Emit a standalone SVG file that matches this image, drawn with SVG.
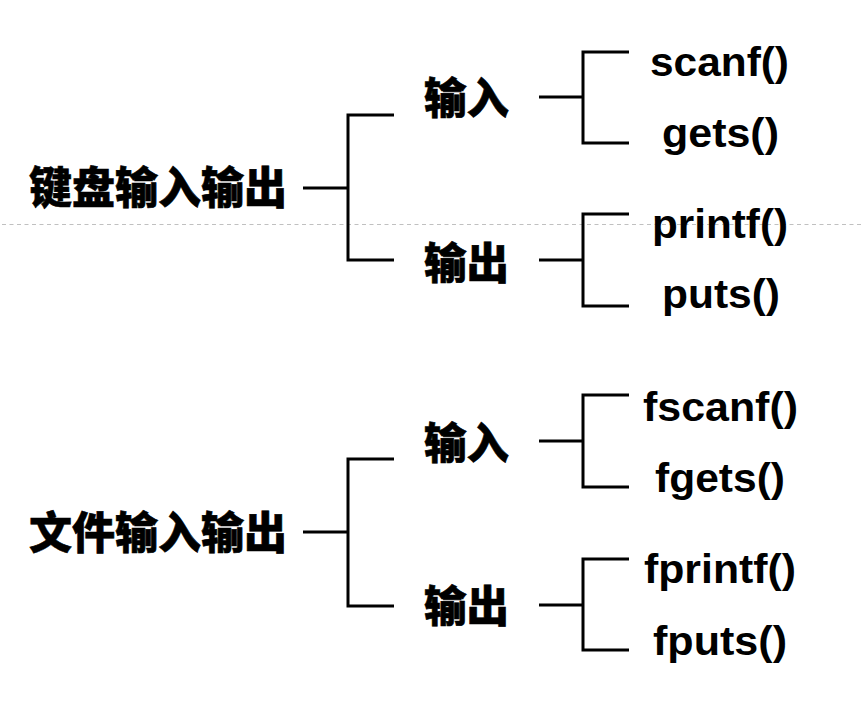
<svg xmlns="http://www.w3.org/2000/svg" width="863" height="711" viewBox="0 0 863 711">
<style>
.cjk{font-family:"Noto Sans CJK SC","Noto Sans CJK JP",sans-serif;font-weight:900;fill:#000;stroke:#000;stroke-width:0.6}
.fn{font-family:"Liberation Sans",Arial,sans-serif;font-weight:bold;font-size:40px;fill:#000}
.br{fill:none;stroke:#000;stroke-width:3}
</style>
<rect width="863" height="711" fill="#fff"/>
<line x1="2" y1="224.5" x2="863" y2="224.5" stroke="#c0c0c0" stroke-width="1" stroke-dasharray="4 3.5"/>
<g id="connectors">
<path class="br" d="M303 188H348M394 115H348V260H394"/>
<path class="br" d="M539 97H583M629 52H583V143H629"/>
<path class="br" d="M539 260H583M629 214H583V306H629"/>
<path class="br" d="M303 532H348M394 459H348V606H394"/>
<path class="br" d="M539 441H583M629 395H583V487H629"/>
<path class="br" d="M539 605H583M629 559H583V650H629"/>
</g>
<g id="kb"><text class="cjk" x="29" y="204" font-size="44" textLength="258" lengthAdjust="spacingAndGlyphs">键盘输入输出</text></g>
<g id="kb-in"><text class="cjk" x="424" y="114" font-size="43" textLength="85" lengthAdjust="spacingAndGlyphs">输入</text></g>
<g id="kb-out"><text class="cjk" x="424" y="279" font-size="43" textLength="85" lengthAdjust="spacingAndGlyphs">输出</text></g>
<g id="scanf"><text class="fn" x="650" y="76" textLength="139" lengthAdjust="spacingAndGlyphs">scanf()</text></g>
<g id="gets"><text class="fn" x="662" y="147" textLength="117" lengthAdjust="spacingAndGlyphs">gets()</text></g>
<g id="printf"><text class="fn" x="652" y="238" textLength="136" lengthAdjust="spacingAndGlyphs">printf()</text></g>
<g id="puts"><text class="fn" x="662" y="308" textLength="118" lengthAdjust="spacingAndGlyphs">puts()</text></g>
<g id="file"><text class="cjk" x="29" y="549" font-size="44" textLength="258" lengthAdjust="spacingAndGlyphs">文件输入输出</text></g>
<g id="file-in"><text class="cjk" x="424" y="459" font-size="43" textLength="85" lengthAdjust="spacingAndGlyphs">输入</text></g>
<g id="file-out"><text class="cjk" x="424" y="622" font-size="43" textLength="85" lengthAdjust="spacingAndGlyphs">输出</text></g>
<g id="fscanf"><text class="fn" x="643" y="421" textLength="155" lengthAdjust="spacingAndGlyphs">fscanf()</text></g>
<g id="fgets"><text class="fn" x="655" y="492" textLength="130" lengthAdjust="spacingAndGlyphs">fgets()</text></g>
<g id="fprintf"><text class="fn" x="644" y="583" textLength="152" lengthAdjust="spacingAndGlyphs">fprintf()</text></g>
<g id="fputs"><text class="fn" x="653" y="655" textLength="134" lengthAdjust="spacingAndGlyphs">fputs()</text></g>
</svg>
